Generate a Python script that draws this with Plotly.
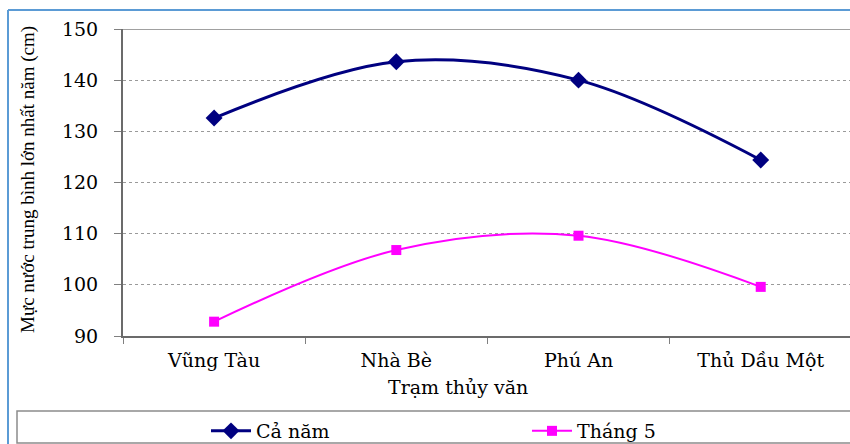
import plotly.graph_objects as go

# Hydrological stations and mean annual maximum water level (cm)
stations = ["Vũng Tàu", "Nhà Bè", "Phú An", "Thủ Dầu Một"]
ca_nam = [132.6, 143.6, 140.0, 124.4]
thang_5 = [92.8, 106.8, 109.6, 99.6]
y_ticks = [90, 100, 110, 120, 130, 140, 150]

W, H = 850, 444
L, R, T, B = 123, 0, 29, 108
PW, PH = W - L - R, H - T - B


def px(x):
    return (x - L) / PW


def py(y):
    return (H - B - y) / PH


serif = "DejaVu Serif"

fig = go.Figure()
fig.add_trace(go.Scatter(
    x=stations, y=ca_nam, name="Cả năm", mode="lines+markers",
    line=dict(color="#000080", width=3, shape="spline", smoothing=1.0),
    marker=dict(symbol="diamond", size=13, color="#000080"),
))
fig.add_trace(go.Scatter(
    x=stations, y=thang_5, name="Tháng 5", mode="lines+markers",
    line=dict(color="#FF00FF", width=2, shape="spline", smoothing=1.0),
    marker=dict(symbol="square", size=10, color="#FF00FF"),
))

fig.update_layout(
    width=W, height=H,
    margin=dict(l=L, r=R, t=T, b=B, autoexpand=False),
    paper_bgcolor="white", plot_bgcolor="white",
    font=dict(family=serif, color="black", size=19),
    showlegend=True,
    legend=dict(
        orientation="h", x=px(206), y=py(412), xanchor="left", yanchor="top",
        font=dict(family=serif, size=19, color="black"),
        entrywidth=266, entrywidthmode="pixels",
        bgcolor="rgba(0,0,0,0)", borderwidth=0,
        itemwidth=40,
    ),
    xaxis=dict(
        range=[-0.5, 3.49], showgrid=False, showline=True,
        linecolor="#6b6b6b", linewidth=2, mirror=False,
        ticks="outside", tickson="boundaries", ticklen=6, tickcolor="#808080",
        tickfont=dict(family=serif, size=19), ticklabelstandoff=6,
        zeroline=False, fixedrange=True,
    ),
    yaxis=dict(
        range=[90, 150], tickvals=y_ticks, showgrid=True,
        gridcolor="#9a9a9a", griddash="dot", gridwidth=1,
        showline=True, linecolor="#6b6b6b", linewidth=2,
        ticks="outside", ticklen=7, tickcolor="#808080",
        tickfont=dict(family=serif, size=19), ticklabelstandoff=12,
        zeroline=False, fixedrange=True,
    ),
)

fig.add_annotation(
    text="Trạm thủy văn", xref="paper", yref="paper",
    x=px(458), y=py(387), xanchor="center", yanchor="middle",
    showarrow=False, font=dict(family=serif, size=19, color="black"),
)
fig.add_annotation(
    text="Mực nước trung bình lớn nhất năm (cm)", xref="paper", yref="paper",
    x=px(28), y=py(180), xanchor="center", yanchor="middle", textangle=-90,
    showarrow=False, font=dict(family="Liberation Serif", size=19, color="black"),
)

shapes = [
    # solid top line of the plot area at 150
    dict(type="line", xref="paper", yref="y", x0=0, x1=1, y0=150, y1=150,
         line=dict(color="#a0a0a0", width=2), layer="above"),
    # legend frame
    dict(type="rect", xref="paper", yref="paper",
         x0=px(17), x1=px(856), y0=py(443), y1=py(411),
         line=dict(color="#8c8c8c", width=1.5), layer="below"),
    # outer chart border
    dict(type="line", xref="paper", yref="paper",
         x0=px(8), x1=px(8), y0=py(10), y1=py(460),
         line=dict(color="#5b9bd5", width=2)),
    dict(type="line", xref="paper", yref="paper",
         x0=px(8), x1=px(860), y0=py(10), y1=py(10),
         line=dict(color="#5b9bd5", width=2)),
]
fig.update_layout(shapes=shapes)

fig.write_html("out.html", config={"displayModeBar": False})
